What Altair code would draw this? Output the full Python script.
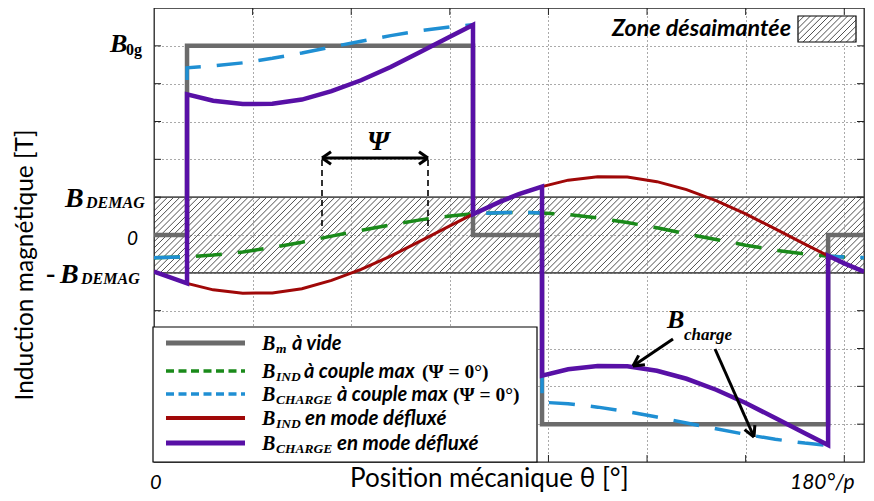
import math
import altair as alt
import pandas as pd

# ---------------- data (x in grid units: 0 .. 7.2, y in grid units: B0g = 5, B_DEMAG = 1) -------------
x_smooth = [0, 0.335, 0.6, 0.9, 1.2, 1.5, 1.8, 2.1, 2.4, 2.7, 3.0, 3.235, 3.5, 3.7, 3.935,
            4.2, 4.5, 4.8, 5.1, 5.4, 5.7, 6.0, 6.3, 6.6, 6.836, 7.0, 7.2]
b_ind_max = [-0.60, -0.58, -0.53, -0.45, -0.33, -0.19, -0.03, 0.12, 0.27, 0.40, 0.50, 0.56, 0.59, 0.60,
             0.58, 0.54, 0.45, 0.33, 0.19, 0.03, -0.12, -0.27, -0.40, -0.50, -0.56, -0.58, -0.60]
b_ind_defl = [-0.97, -1.28, -1.45, -1.54, -1.53, -1.42, -1.20, -0.91, -0.56, -0.16, 0.24, 0.55, 0.87, 1.08,
              1.28, 1.45, 1.54, 1.53, 1.41, 1.20, 0.91, 0.56, 0.16, -0.24, -0.55, -0.75, -0.97]

x_step = [0, 0.335, 0.335, 0.6, 0.9, 1.2, 1.5, 1.8, 2.1, 2.4, 2.7, 3.0, 3.235, 3.235, 3.5, 3.7, 3.935,
          3.935, 4.2, 4.5, 4.8, 5.1, 5.4, 5.7, 6.0, 6.3, 6.6, 6.836, 6.836, 7.0, 7.2]
b_charge_max = [-0.60, -0.58, 4.42, 4.47, 4.55, 4.67, 4.81, 4.97, 5.12, 5.27, 5.40, 5.50, 5.56, 0.56, 0.59,
                0.60, 0.58, -4.42, -4.46, -4.55, -4.67, -4.81, -4.97, -5.12, -5.27, -5.40, -5.50, -5.56,
                -0.56, -0.58, -0.60]
b_charge_defl = [-0.97, -1.28, 3.72, 3.55, 3.46, 3.47, 3.58, 3.80, 4.09, 4.44, 4.84, 5.24, 5.55, 0.55, 0.87,
                 1.08, 1.28, -3.72, -3.55, -3.46, -3.47, -3.59, -3.80, -4.09, -4.44, -4.84, -5.24, -5.55,
                 -0.55, -0.75, -0.97]

x_vide = [0, 0.335, 0.335, 3.235, 3.235, 3.935, 3.935, 6.836, 6.836, 7.2]
b_vide = [0, 0, 5, 5, 0, 0, -5, -5, 0, 0]

x_grid = [1, 2, 3, 4, 5, 6, 7]
y_grid = [-5, -4, -3, -2, -1, 0, 1, 2, 3, 4, 5]
b_demag = 1

# ---------------- geometry helpers (page pixel -> data units) ----------------
W, H = 710, 454
XMAX, YMIN, YMAX = 7.2, -6, 6
PX0, PY0 = 154, 8


def X(px):
    return (px - PX0) * XMAX / W


def Y(py):
    return YMAX - (py - PY0) * (YMAX - YMIN) / H


def PY(y):
    return PY0 + (YMAX - y) * H / (YMAX - YMIN)


xs = alt.Scale(domain=[0, XMAX], nice=False, zero=False)
ys = alt.Scale(domain=[YMIN, YMAX], nice=False, zero=False)
xaxis = alt.Axis(values=x_grid, grid=True, gridDash=[1, 3], gridColor="#555", gridWidth=1,
                 labels=False, ticks=False, domain=False, title=None)
yaxis = alt.Axis(values=y_grid, grid=True, gridDash=[1, 3], gridColor="#555", gridWidth=1,
                 labels=False, ticks=False, domain=False, title=None)


def XY(**kw):
    d = dict(x=alt.X("x:Q", scale=xs, axis=xaxis), y=alt.Y("y:Q", scale=ys, axis=yaxis))
    d.update(kw)
    return d


def series(xv, yv, color, width, dash=None):
    df = pd.DataFrame({"x": xv, "y": yv, "i": list(range(len(xv)))})
    kw = dict(color=color, strokeWidth=width, clip=True, strokeJoin="miter")
    if dash:
        kw["strokeDash"] = dash
    return alt.Chart(df).mark_line(**kw).encode(**XY(order="i:Q"))


def segs_chart(segs, color, width, dash=None, clip=False):
    df = pd.DataFrame(segs, columns=["x", "y", "x2", "y2"])
    kw = dict(color=color, strokeWidth=width, clip=clip)
    if dash:
        kw["strokeDash"] = dash
    return alt.Chart(df).mark_rule(**kw).encode(**XY(x2="x2:Q", y2="y2:Q"))


def hatch(px0, py0, px1, py1, step):
    hgt = py1 - py0
    out = []
    c = px0 - hgt
    while c < px1:
        t0 = max(0.0, px0 - c)
        t1 = min(hgt, px1 - c)
        if t1 > t0:
            out.append((X(c + t0), Y(py1 - t0), X(c + t1), Y(py1 - t1)))
        c += step
    return out


def texts(items, font, style, weight, align="left", baseline="alphabetic", angle=0, color="black"):
    df = pd.DataFrame([{"x": X(a), "y": Y(b), "text": t, "fs": s} for (a, b, t, s) in items])
    return alt.Chart(df).mark_text(align=align, baseline=baseline, font=font, fontStyle=style,
                                   fontWeight=weight, angle=angle, color=color).encode(
        **XY(text="text:N", size=alt.Size("fs:Q", scale=None)))


def arrow_head(tx, ty, fx, fy, L=12, a=28):
    dx, dy = fx - tx, fy - ty
    n = math.hypot(dx, dy)
    bx, by = dx / n, dy / n
    c, s = math.cos(math.radians(a)), math.sin(math.radians(a))
    p1 = (tx + L * (bx * c - by * s), ty + L * (bx * s + by * c))
    p2 = (tx + L * (bx * c + by * s), ty + L * (-bx * s + by * c))
    return [(X(p1[0]), Y(p1[1]), X(tx), Y(ty)), (X(p2[0]), Y(p2[1]), X(tx), Y(ty))]


GRAY, GREEN, BLUE, RED, PURPLE = "#6b6b6b", "#1a8a1a", "#1f8fd3", "#a00808", "#5810a6"
SERIF, SANS = "Liberation Serif", "Lato"

layers = []

# demagnetised zone (hatched band)
zone_top, zone_bot = PY(b_demag), PY(-b_demag)
layers.append(segs_chart(hatch(PX0 - 5, zone_top, PX0 + W + 5, zone_bot, 6.2), "#222", 0.8, clip=True))
layers.append(segs_chart([(0, b_demag, XMAX, b_demag), (0, -b_demag, XMAX, -b_demag)], "#555", 1.6))

# inward ticks
tk = []
for v in x_grid:
    tk.append((v, YMIN, v, YMIN + 7 * 12 / H))
    tk.append((v, YMAX, v, YMAX - 7 * 12 / H))
for v in y_grid:
    tk.append((0, v, 7 * XMAX / W, v))
    tk.append((XMAX, v, XMAX - 7 * XMAX / W, v))
layers.append(segs_chart(tk, "#222", 1))

# curves
layers.append(series(x_vide, b_vide, GRAY, 4.5))
layers.append(series(x_smooth, b_ind_max, GREEN, 3.5, [26, 16]))
layers.append(series(x_step, b_charge_max, BLUE, 3.5, [26, 16]))
layers.append(series(x_smooth, b_ind_defl, RED, 3))
layers.append(series(x_step, b_charge_defl, PURPLE, 4.5))

# legend box
lb = pd.DataFrame([{"x": X(153), "y": Y(327), "x2": X(537), "y2": YMIN}])
layers.append(alt.Chart(lb).mark_rect(fill="white", stroke="black", strokeWidth=1.2).encode(
    **XY(x2="x2:Q", y2="y2:Q")))
rows = [343, 371, 394, 418, 443]
leg_styles = [(GRAY, 5, None), (GREEN, 3.5, [8, 4.5]), (BLUE, 3.5, [8, 4.5]), (RED, 4, None), (PURPLE, 5, None)]
for r, (col, w, d) in zip(rows, leg_styles):
    layers.append(segs_chart([(X(166), Y(r), X(245), Y(r))], col, w, d))

# zone legend (top right)
zb = pd.DataFrame([{"x": X(798), "y": Y(16), "x2": X(856), "y2": Y(42)}])
layers.append(alt.Chart(zb).mark_rect(fill="white", stroke="black", strokeWidth=1.2).encode(
    **XY(x2="x2:Q", y2="y2:Q")))
layers.append(segs_chart(hatch(798, 16, 856, 42, 6.2), "#222", 0.8))

# Psi annotation
layers.append(segs_chart([(X(322), Y(160), X(322), Y(231)), (X(428), Y(160), X(428), Y(231))],
                         "black", 1.6, [6, 4]))
psi = [(X(322), Y(158), X(428), Y(158))]
psi += arrow_head(322, 158, 428, 158, L=11, a=35) + arrow_head(428, 158, 322, 158, L=11, a=35)
layers.append(segs_chart(psi, "black", 3))

# B_charge arrows
arr = [(X(673), Y(339), X(633), Y(366)), (X(715), Y(349), X(754), Y(437))]
arr += arrow_head(633, 366, 673, 339) + arrow_head(754, 437, 715, 349)
layers.append(segs_chart(arr, "black", 3))

# ---------------- texts ----------------
serif_bi = [
    (110, 52, "B", 26), (65, 207, "B", 28), (86, 208, "DEMAG", 16), (60, 283, "B", 28), (81, 284, "DEMAG", 16),
    (367, 150, "Ψ", 28), (667, 328, "B", 26), (684, 340, "charge", 17),
]
leg_sub = ["m", "IND", "CHARGE", "IND", "CHARGE"]
for r, s in zip(rows, leg_sub):
    serif_bi.append((262, r + 7, "B", 20))
    serif_bi.append((276, r + 10, s, 13.5))
layers.append(texts(serif_bi, SERIF, "italic", "bold"))

serif_b = [(126, 55, "0g", 16), (46, 282, "-", 28),
           (422, rows[1] + 7, "(Ψ = 0°)", 19.5), (453, rows[2] + 7, "(Ψ = 0°)", 19.5)]
layers.append(texts(serif_b, SERIF, "normal", "bold"))

sans_bi = [(292, rows[0] + 7, "à vide", 20), (304, rows[1] + 7, "à couple max", 20),
           (337, rows[2] + 7, "à couple max", 20), (305, rows[3] + 7, "en mode défluxé", 20.5),
           (337, rows[4] + 7, "en mode défluxé", 20.5), (612, 36, "Zone désaimantée", 23.3)]
layers.append(texts(sans_bi, SANS, "italic", "bold"))

sans_i = [(127, 245, "0", 19), (150, 489, "0", 20), (790, 489, "180°/p", 21)]
layers.append(texts(sans_i, SANS, "italic", "normal"))

layers.append(texts([(350, 487, "Position mécanique θ [°]", 26)], SANS, "normal", "normal"))
layers.append(texts([(26, 265, "Induction magnétique [T]", 24.5)], SANS, "normal", "normal",
                    align="center", baseline="middle", angle=270))

chart = alt.layer(*layers).properties(
    width=W, height=H,
    padding={"left": 146, "top": 0, "right": 2, "bottom": 31},
    autosize=alt.AutoSizeParams(type="none"),
    background="white",
).configure_view(stroke="#222", strokeWidth=1.3)

chart.save("out.html", embed_options={"renderer": "svg", "actions": False})
